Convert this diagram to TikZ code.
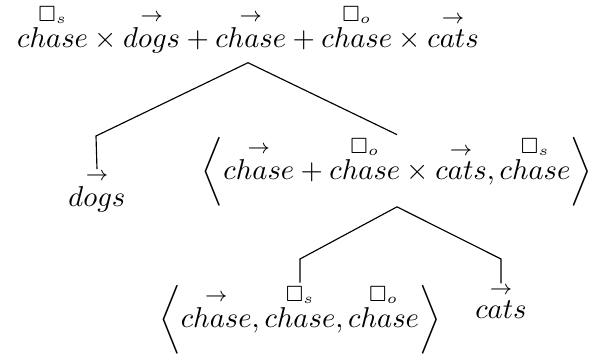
\documentclass[tikz,border=0pt]{standalone}
\usepackage{amsmath,amssymb}
\begin{document}
\begin{tikzpicture}[x=0.3484pt,y=-0.3484pt,
  term/.style={inner sep=0pt},
  rootterm/.style={inner sep=3.33pt},
  edge/.style={draw=black,line width=0.4pt}]
\useasboundingbox (0,0) rectangle (594,356);
% nodes
\node[rootterm,anchor=base] (root) at (248,47)
  {$\overset{\square_s}{chase}\times\overset{\rightarrow}{dogs}+\overset{\rightarrow}{chase}+\overset{\square_o}{chase}\times\overset{\rightarrow}{cats}$};
\node[term,anchor=base] (dogs) at (97,206) {$\overset{\rightarrow}{dogs}$};
\node[term,anchor=base] (b1) at (397,179)
  {$\biggl\langle\overset{\rightarrow}{chase}+\overset{\square_o}{chase}\times\overset{\rightarrow}{cats},\overset{\square_s}{chase}\biggr\rangle$};
\node[term,anchor=base] (b2) at (300,327)
  {$\biggl\langle\overset{\rightarrow}{chase},\overset{\square_s}{chase},\overset{\square_o}{chase}\biggr\rangle$};
\node[term,anchor=base] (cats) at (501,318) {$\overset{\rightarrow}{cats}$};
% kinks
\coordinate (k1) at (96,136);
\coordinate (k2) at (300,259);
\coordinate (k3) at (501,259);
% edges
\draw[edge] (root.south) -- (k1) -- (dogs.north);
\draw[edge] (root.south) -- (b1.north);
\draw[edge] (b1.south) -- (k2) -- (b2.north);
\draw[edge] (b1.south) -- (k3) -- (cats.north);
\end{tikzpicture}
\end{document}
